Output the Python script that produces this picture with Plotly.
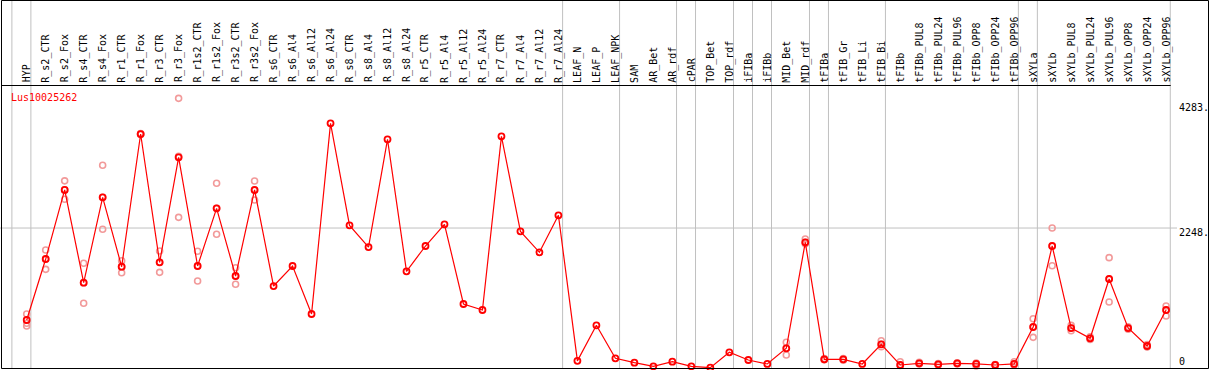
import plotly.graph_objects as go

gene = "Lus10025262"

categories = [
    "HYP", "R_s2_CTR", "R_s2_Fox", "R_s4_CTR", "R_s4_Fox", "R_r1_CTR", "R_r1_Fox",
    "R_r3_CTR", "R_r3_Fox", "R_r1s2_CTR", "R_r1s2_Fox", "R_r3s2_CTR", "R_r3s2_Fox",
    "R_s6_CTR", "R_s6_Al4", "R_s6_Al12", "R_s6_Al24", "R_s8_CTR", "R_s8_Al4",
    "R_s8_Al12", "R_s8_Al24", "R_r5_CTR", "R_r5_Al4", "R_r5_Al12", "R_r5_Al24",
    "R_r7_CTR", "R_r7_Al4", "R_r7_Al12", "R_r7_Al24", "LEAF_N", "LEAF_P", "LEAF_NPK",
    "SAM", "AR_Bet", "AR_rdf", "cPAR", "TOP_Bet", "TOP_rdf", "iFIBa", "iFIBb",
    "MID_Bet", "MID_rdf", "tFIBa", "tFIB_Gr", "tFIB_Li", "tFIB_Bi", "tFIBb",
    "tFIBb_PUL8", "tFIBb_PUL24", "tFIBb_PUL96", "tFIBb_OPP8", "tFIBb_OPP24",
    "tFIBb_OPP96", "sXYLa", "sXYLb", "sXYLb_PUL8", "sXYLb_PUL24", "sXYLb_PUL96",
    "sXYLb_OPP8", "sXYLb_OPP24", "sXYLb_OPP96",
]

mean_values = [
    805, 1762, 2846, 1390, 2730, 1641, 3723, 1710, 3358, 1652, 2557, 1495, 2845,
    1338, 1652, 899, 3891, 2290, 1950, 3640, 1569, 1966, 2306, 1056, 962,
    3687, 2196, 1867, 2448, 164, 722, 204, 135, 78, 151, 78, 57, 298, 177, 115,
    361, 2024, 188, 188, 115, 424, 99, 125, 110, 125, 115, 99, 115,
    695, 1966, 679, 518, 1448, 679, 397, 962,
]

N = None
rep_hi = [
    899, 1903, 2988, 1695, 3232, 1735, 3730, 1888, 4283, 1883, 2950, 1626, 2986,
    N, N, N, N, N, N, N, N, N, N, N, N, N, N, N, N, N, N, N, N, N, N, N, N, N, N, N,
    455, 2076, 200, 200, N, 480, 151, 140, 120, 135, 130, 105, 151,
    825, 2248, 720, 540, 1783, 700, 420, 1025,
]
rep_lo = [
    711, 1600, 2699, 1067, 2228, 1547, 3716, 1553, 2416, 1417, 2150, 1365, 2688,
    N, N, N, N, N, N, N, N, N, N, N, N, N, N, N, N, N, N, N, N, N, N, N, N, N, N, N,
    256, 2000, 180, 175, N, 386, 99, 115, 100, 115, 83, 95, 100,
    533, 1657, 637, 500, 1087, 660, 380, 868,
]
rep_mid = [
    753, 1762, 2846, 1390, 2730, 1641, 3723, 1710, 3375, 1652, 2557, 1495, 2845,
    N, N, N, N, N, N, N, N, N, N, N, N, N, N, N, N, N, N, N, N, N, N, N, N, N, N, N,
    361, 2024, 188, 188, N, 424, 90, 125, 110, 125, 115, 99, 115,
    695, 1966, 679, 518, 1448, 679, 397, 962,
]

separators_after = [-1, 0, 28, 31, 34, 35, 37, 38, 39, 41, 42, 45, 52, 53, 60]
grid_value = 2248
ytick_values = [4283, 2248, 0]
ytick_labels = ["4283.", "2248.", "0"]

# ---- geometry (pixels) ----
W, H = 1209, 370
X0_PX, X_STEP = 26.7, 18.99          # pixel of first category, px per category
Y0_PX, Y_SCALE = 371.3, 0.06373      # pixel of value 0, px per unit
HEADER_PX = 85.5
BOTTOM_PX = 368.5
RIGHT_PX = 1208.5
LEFT_PX = 1.5
SEP_OFF = 0.22


def pyp(px):
    return 1 - px / H


def pxp(px):
    return px / W


x_idx = list(range(len(categories)))
x_range = [-X0_PX / X_STEP, (W - X0_PX) / X_STEP]
y_range = [(Y0_PX - H) / Y_SCALE, (Y0_PX - HEADER_PX) / Y_SCALE]

fig = go.Figure()

rep_x, rep_y = [], []
for arr in (rep_hi, rep_lo, rep_mid):
    for i, v in enumerate(arr):
        if v is not None:
            rep_x.append(i)
            rep_y.append(v)

fig.add_trace(go.Scatter(
    x=rep_x, y=rep_y, mode="markers", cliponaxis=False, hoverinfo="skip",
    marker=dict(symbol="circle-open", size=6, color="#f29a9a", line=dict(width=1.6, color="#f29a9a")),
    showlegend=False,
))
fig.add_trace(go.Scatter(
    x=x_idx, y=mean_values, mode="lines+markers", cliponaxis=False,
    line=dict(color="#ff0000", width=1.2),
    marker=dict(symbol="circle-open", size=6, color="#ff0000", line=dict(width=1.8, color="#ff0000")),
    showlegend=False,
))

shapes = []
for s in separators_after:
    shapes.append(dict(type="line", xref="x", yref="paper", x0=s + SEP_OFF, x1=s + SEP_OFF,
                       y0=pyp(BOTTOM_PX), y1=pyp(0), line=dict(color="#c0c0c0", width=1), layer="below"))
shapes.append(dict(type="line", xref="paper", yref="y", x0=0, x1=pxp(1177), y0=grid_value, y1=grid_value,
                   line=dict(color="#c0c0c0", width=1), layer="below"))
shapes.append(dict(type="rect", xref="paper", yref="paper", x0=pxp(LEFT_PX), x1=pxp(RIGHT_PX),
                   y0=pyp(BOTTOM_PX), y1=pyp(0.5), line=dict(color="black", width=1), layer="above"))
shapes.append(dict(type="line", xref="paper", yref="paper", x0=pxp(LEFT_PX), x1=pxp(1170.7),
                   y0=pyp(HEADER_PX), y1=pyp(HEADER_PX), line=dict(color="black", width=1), layer="above"))

mono = "DejaVu Sans Mono"
annotations = []
for i, c in enumerate(categories):
    annotations.append(dict(x=i, y=pyp(84.5), xref="x", yref="paper", text=c, showarrow=False,
                            textangle=-90, xanchor="center", yanchor="bottom", xshift=0,
                            font=dict(family=mono, size=10, color="black")))
annotations.append(dict(x=pxp(9), y=pyp(97.5), xref="paper", yref="paper", text=gene, showarrow=False,
                        xanchor="left", yanchor="middle", font=dict(family=mono, size=10, color="#ff0000")))
label_px = {4283: 107.3, 2248: 232.7, 0: 361.7}
for v, t in zip(ytick_values, ytick_labels):
    annotations.append(dict(x=pxp(1177), y=pyp(label_px[v]), xref="paper", yref="paper", text=t,
                            showarrow=False, xanchor="left", yanchor="middle",
                            font=dict(family=mono, size=10, color="black")))

fig.update_layout(
    width=W, height=H, margin=dict(l=0, r=0, t=0, b=0),
    paper_bgcolor="white", plot_bgcolor="rgba(0,0,0,0)",
    xaxis=dict(range=x_range, domain=[0, 1], visible=False, showgrid=False, zeroline=False),
    yaxis=dict(range=y_range, domain=[0, pyp(HEADER_PX)], visible=False, showgrid=False, zeroline=False),
    shapes=shapes, annotations=annotations, showlegend=False,
)

fig.write_html("out.html", config={"displayModeBar": False},
               post_script="document.body.style.margin='0';document.body.style.overflow='hidden';")
